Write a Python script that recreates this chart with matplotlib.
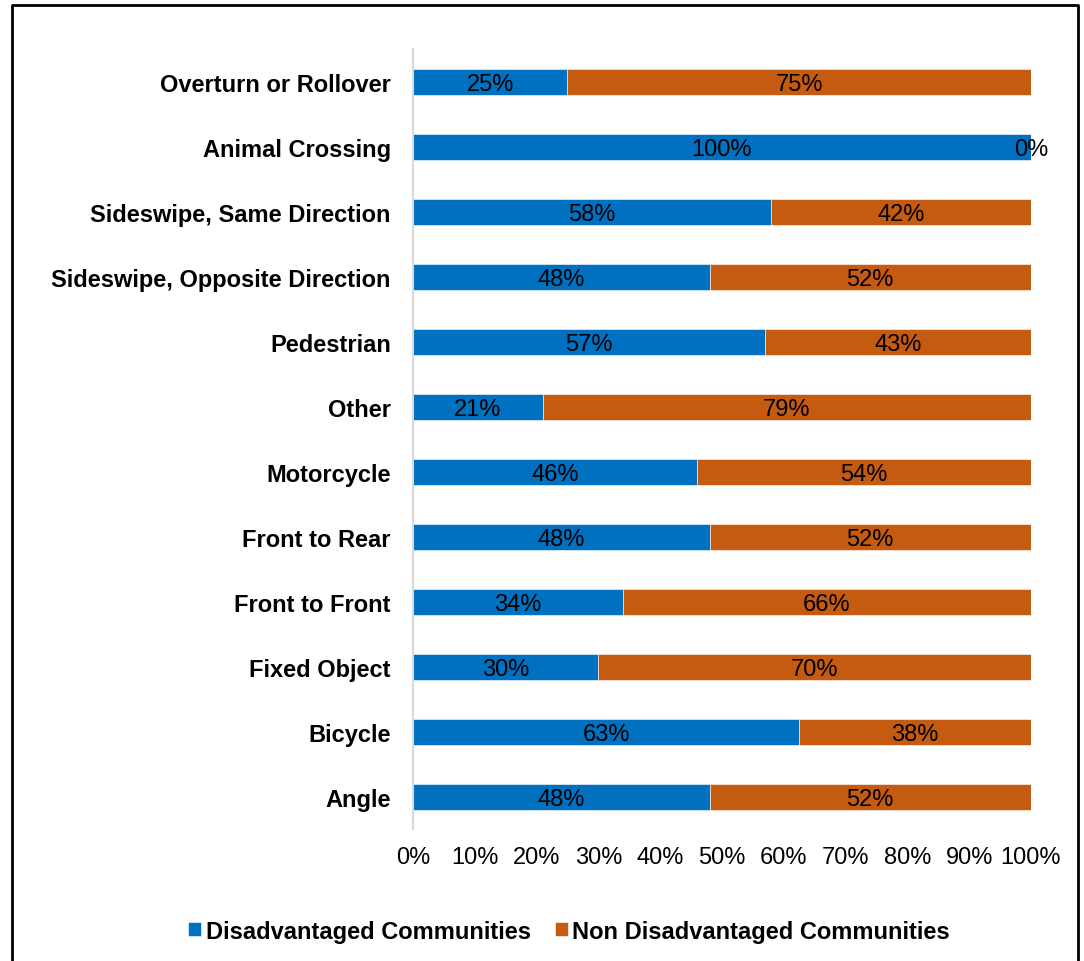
import matplotlib
matplotlib.use("Agg")
import matplotlib.pyplot as plt
from matplotlib.lines import Line2D
import numpy as np

plt.rcParams['font.family'] = ['Liberation Sans', 'DejaVu Sans']

# crash types, bottom to top
categories = ["Angle", "Bicycle", "Fixed Object", "Front to Front", "Front to Rear",
              "Motorcycle", "Other", "Pedestrian", "Sideswipe, Opposite Direction",
              "Sideswipe, Same Direction", "Animal Crossing", "Overturn or Rollover"]
dac = [48, 62.5, 30, 34, 48, 46, 21, 57, 48, 58, 100, 25]
non_dac = [52, 37.5, 70, 66, 52, 54, 79, 43, 52, 42, 0, 75]
series_names = ["Disadvantaged Communities", "Non Disadvantaged Communities"]
colors = ["#0070C0", "#C55A11"]

FS = 17


def pct(v):
    # round half up, like a spreadsheet would
    return "%d%%" % int(np.floor(v + 0.5))


fig = plt.figure(figsize=(10.84, 9.62), dpi=100)
ax = fig.add_axes([0.381, 0.137, 0.57, 0.811])

y = np.arange(len(categories))
b1 = ax.barh(y, dac, height=0.4, color=colors[0], edgecolor="white", linewidth=0.4,
             label=series_names[0])
b2 = ax.barh(y, non_dac, left=dac, height=0.4, color=colors[1], edgecolor="white",
             linewidth=0.4, label=series_names[1])

for i in range(len(categories)):
    ax.text(dac[i] / 2, y[i], pct(dac[i]), ha="center", va="center_baseline", fontsize=FS)
    ax.text(dac[i] + non_dac[i] / 2, y[i], pct(non_dac[i]), ha="center",
            va="center_baseline", fontsize=FS)

ax.set_xlim(0, 100)
ax.set_ylim(-0.5, len(categories) - 0.5)
ax.set_xticks(np.arange(0, 101, 10))
ax.set_xticklabels(["%d%%" % t for t in range(0, 101, 10)], fontsize=FS)
ax.set_yticks(y)
ax.set_yticklabels(categories, fontsize=FS, fontweight="bold")
ax.tick_params(length=0)
ax.tick_params(axis="y", pad=16)
ax.tick_params(axis="x", pad=12)
for s in ["top", "right", "bottom"]:
    ax.spines[s].set_visible(False)
ax.spines["left"].set_color("#d9d9d9")
ax.spines["left"].set_linewidth(1.5)

fig.legend(handles=[b1, b2], loc="center", bbox_to_anchor=(0.525, 0.031), ncol=2,
           frameon=False, prop={"size": FS, "weight": "bold"},
           handlelength=0.55, handleheight=0.55, handletextpad=0.2, columnspacing=1.0)

# open frame around the chart (left, top, right)
fx = [12 / 1084, 12 / 1084, 1078 / 1084, 1078 / 1084]
fy = [0, 1 - 6 / 962, 1 - 6 / 962, 0]
fig.add_artist(Line2D(fx, fy, transform=fig.transFigure, color="black", linewidth=2))

fig.savefig("out.png", dpi=100, facecolor="white")
